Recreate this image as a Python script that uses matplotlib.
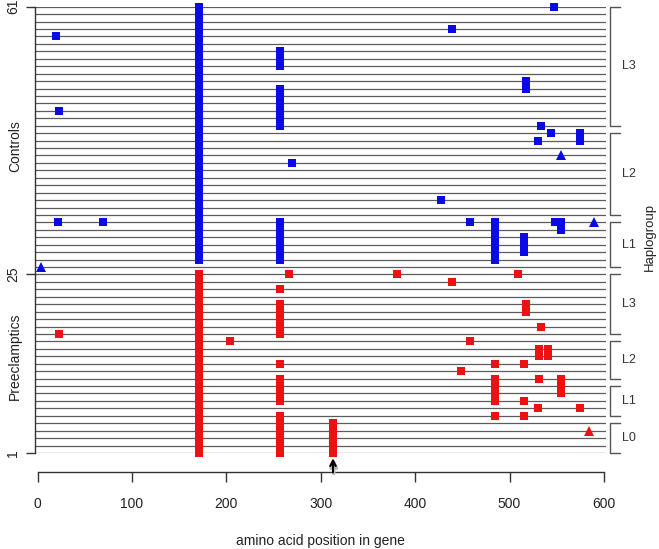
import matplotlib
matplotlib.use("Agg")
import matplotlib.pyplot as plt
import matplotlib.transforms as mtransforms

plt.rcParams['font.family'] = ['Liberation Sans', 'DejaVu Sans']

# ---------------- data ----------------
# squares drawn as runs: position, first row, last row
ctrl_pos = [171, 257, 257, 257, 20, 547, 439, 517, 23, 533, 544, 530, 575, 270, 427,
            22, 69, 458, 485, 548, 555, 515]
ctrl_first = [27, 53, 45, 27, 57, 61, 58, 50, 47, 45, 44, 43, 43, 40, 35,
              32, 32, 32, 27, 32, 31, 28]
ctrl_last = [61, 55, 50, 32, 57, 61, 58, 51, 47, 45, 44, 43, 44, 40, 35,
             32, 32, 32, 32, 32, 32, 30]
ctrl_tri_pos = [554, 589, 4]
ctrl_tri_row = [41, 32, 26]

pe_pos = [171, 257, 257, 257, 257, 257, 266, 23, 204, 381, 509, 439, 517, 533, 458,
          531, 541, 485, 515, 449, 531, 555, 485, 515, 530, 575, 485, 515, 313]
pe_first = [1, 23, 17, 13, 8, 1, 25, 17, 16, 25, 25, 24, 20, 18, 16,
            14, 14, 13, 13, 12, 11, 9, 8, 8, 7, 7, 6, 6, 1]
pe_last = [25, 23, 21, 13, 11, 6, 25, 17, 16, 25, 25, 24, 21, 18, 16,
           15, 15, 13, 13, 12, 11, 11, 11, 8, 7, 7, 6, 6, 5]
pe_tri_pos = [584]
pe_tri_row = [4]

hap_names = ['L3', 'L2', 'L1', 'L3', 'L2', 'L1', 'L0']
hap_first = [45, 33, 26, 17, 11, 6, 1]
hap_last = [61, 44, 32, 25, 16, 10, 5]

n_rows = 61
y_ticks = [1, 25, 61]
x_ticks = [0, 100, 200, 300, 400, 500, 600]
arrow_pos = 313

# ---------------- figure ----------------
W, H = 659, 549
fig = plt.figure(figsize=(W / 100, H / 100), dpi=100)
ax = fig.add_axes([35 / W, (H - 453) / H, 571.3 / W, 446.3 / H])
ax.set_xlim(-2.65, 602.5)
ax.set_ylim(1, n_rows)

line_col = '#5c5c5c'
ax.hlines(range(1, n_rows + 1), -2.65, 602.5, color=line_col, lw=0.9, zorder=1)


def expand(pos, first, last):
    xs, ys = [], []
    for p, a, b in zip(pos, first, last):
        for r in range(a, b + 1):
            xs.append(p)
            ys.append(r)
    return xs, ys


blue = '#0a0ae8'
red = '#ee1111'
cx, cy = expand(ctrl_pos, ctrl_first, ctrl_last)
px, py = expand(pe_pos, pe_first, pe_last)
ax.plot(cx, cy, 's', color=blue, ms=5.1, mew=0, clip_on=False, zorder=3)
ax.plot(px, py, 's', color=red, ms=5.1, mew=0, clip_on=False, zorder=3)
ax.plot(ctrl_tri_pos, ctrl_tri_row, '^', color=blue, ms=7.0, mew=0, clip_on=False, zorder=3)
ax.plot(pe_tri_pos, pe_tri_row, '^', color=red, ms=7.0, mew=0, clip_on=False, zorder=3)

# arrow below row 1 (with soft shadow)
ax.annotate('', xy=(arrow_pos + 0.8, 0.2), xytext=(arrow_pos + 0.8, -1.75),
            arrowprops=dict(arrowstyle='->', color='#bbbbbb', lw=2.5,
                            mutation_scale=10, shrinkA=0, shrinkB=0),
            annotation_clip=False, zorder=4)
ax.annotate('', xy=(arrow_pos, 0.3), xytext=(arrow_pos, -1.6),
            arrowprops=dict(arrowstyle='->', color='black', lw=1.5,
                            mutation_scale=10, shrinkA=0, shrinkB=0),
            annotation_clip=False, zorder=5)

# spines / axes
for s in ['top', 'right']:
    ax.spines[s].set_visible(False)
ax.spines['bottom'].set_position(('outward', 13.9))
ax.spines['bottom'].set_bounds(0, 600)
ax.spines['left'].set_bounds(1, n_rows)
for s in ['bottom', 'left']:
    ax.spines[s].set_color('#333333')
    ax.spines[s].set_linewidth(1.0)

ax.set_xticks(x_ticks)
ax.set_xticklabels([str(v) for v in x_ticks])
ax.set_yticks(y_ticks)
ax.set_yticklabels([str(v) for v in y_ticks], rotation=90, va='center')
ax.tick_params(axis='x', length=7.5, width=1.0, pad=10, labelsize=10, color='#333333', labelcolor='#222222')
ax.tick_params(axis='y', length=6.5, width=1.0, pad=4, labelsize=10, color='#333333', labelcolor='#222222')
ax.set_xlabel('amino acid position in gene', fontsize=10, labelpad=17, color='#222222')

# group labels on the left
bl = mtransforms.blended_transform_factory(fig.transFigure, ax.transData)
ax.text(15 / W, 42.3, 'Controls', rotation=90, ha='center', va='center',
        fontsize=10, transform=bl, color='#222222')
ax.text(15 / W, 14.0, 'Preeclamptics', rotation=90, ha='center', va='center',
        fontsize=10, transform=bl, color='#222222')

# haplogroup brackets
bx = 606.5
bx2 = 617
for name, a, b in zip(hap_names, hap_first, hap_last):
    ax.plot([bx2, bx, bx, bx2], [b, b, a, a], color='#555555', lw=1.0, clip_on=False)
    ax.text(619, (a + b) / 2, name, ha='left', va='center', fontsize=9, color='#333333',
            clip_on=False)
ax.text(650 / W, 30.1, 'Haplogroup', rotation=90, ha='center', va='center',
        fontsize=9.5, transform=bl, color='#222222')

fig.savefig('out.png', dpi=100)
